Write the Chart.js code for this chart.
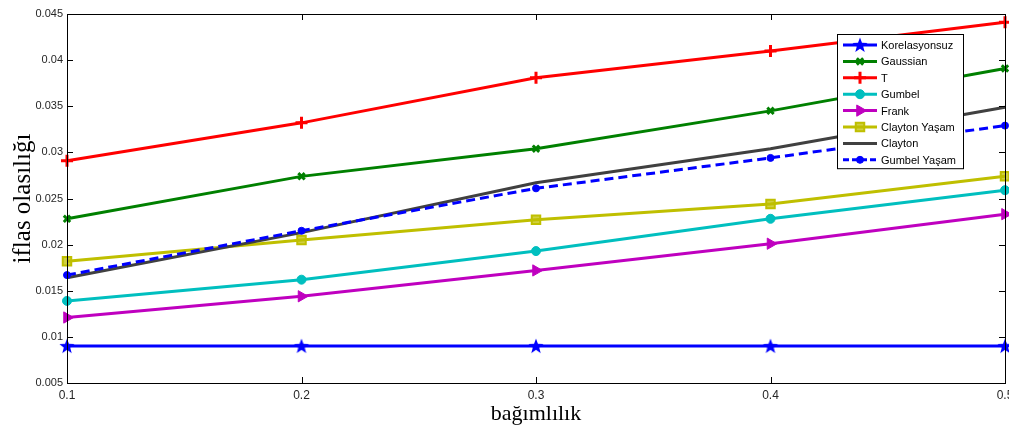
<!DOCTYPE html>
<html>
<head>
<meta charset="utf-8">
<script src="https://cdn.jsdelivr.net/npm/chart.js@4.4.1/dist/chart.umd.min.js"></script>
<style>
  html, body { margin: 0; padding: 0; background: #fff; }
  #wrap { width: 1009px; height: 427px; }
</style>
</head>
<body>
<div id="wrap"><canvas id="c" width="1009" height="427"></canvas></div>
<script>
// ---- data ----
const dependence = [0.1, 0.2, 0.3, 0.4, 0.5];
const korelasyonsuz = [0.0090, 0.0090, 0.0090, 0.0090, 0.0090];
const gaussian     = [0.0228, 0.0274, 0.0304, 0.0345, 0.0391];
const tCopula      = [0.0291, 0.0332, 0.0381, 0.0410, 0.0441];
const gumbel       = [0.0139, 0.0162, 0.0193, 0.0228, 0.0259];
const frank        = [0.0121, 0.0144, 0.0172, 0.0201, 0.0233];
const claytonYasam = [0.0182, 0.0205, 0.0227, 0.0244, 0.0274];
const clayton      = [0.0164, 0.0213, 0.0267, 0.0304, 0.0349];
const gumbelYasam  = [0.0167, 0.0215, 0.0261, 0.0294, 0.0329];
const yTicks = [0.005, 0.01, 0.015, 0.02, 0.025, 0.03, 0.035, 0.04, 0.045];

// filled five-pointed star marker
function starMarker(r, color) {
  const s = Math.ceil(r * 2 + 2);
  const cv = document.createElement('canvas');
  cv.width = s; cv.height = s;
  const g = cv.getContext('2d');
  g.translate(s / 2, s / 2 + 0.5);
  g.beginPath();
  for (let i = 0; i < 10; i++) {
    const rad = i % 2 === 0 ? r : r * 0.42;
    const a = -Math.PI / 2 + i * Math.PI / 5;
    g.lineTo(rad * Math.cos(a), rad * Math.sin(a));
  }
  g.closePath();
  g.fillStyle = color;
  g.fill();
  return cv;
}

const pts = vals => vals.map((v, i) => ({ x: dependence[i], y: v }));

const series = [
  { label: 'Korelasyonsuz', data: korelasyonsuz, color: '#0000ff', style: starMarker(8, '#0000ff'), radius: 8 },
  { label: 'Gaussian', data: gaussian, color: '#008000', style: 'crossRot', radius: 4.5, pbw: 3 },
  { label: 'T', data: tCopula, color: '#ff0000', style: 'cross', radius: 6, pbw: 3 },
  { label: 'Gumbel', data: gumbel, color: '#00bfbf', style: 'circle', radius: 4.5, pbw: 1, fill: '#00bfbf' },
  { label: 'Frank', data: frank, color: '#bf00bf', style: 'triangle', radius: 6.5, rot: 90, pbw: 1, fill: '#bf00bf' },
  { label: 'Clayton Yaşam', data: claytonYasam, color: '#bfbf00', style: 'rect', radius: 6, pbw: 2, fill: 'rgba(191,191,0,0.75)' },
  { label: 'Clayton', data: clayton, color: '#404040', style: false, radius: 0 },
  { label: 'Gumbel Yaşam', data: gumbelYasam, color: '#0000ff', style: 'circle', radius: 3.5, pbw: 1, fill: '#0000ff', dash: [9, 5] }
];

const datasets = series.map((s, i) => ({
  label: s.label,
  data: pts(s.data),
  borderColor: s.color,
  backgroundColor: s.fill || s.color,
  borderWidth: 3,
  borderDash: s.dash || [],
  pointStyle: s.style,
  pointRadius: s.radius,
  pointHoverRadius: s.radius,
  pointRotation: s.rot || 0,
  pointBorderWidth: s.pbw || 1,
  pointBorderColor: s.color,
  pointBackgroundColor: s.fill || s.color,
  tension: 0,
  clip: false,
  order: series.length - i
}));

// box around axes + inward ticks on all four sides
const boxTicks = {
  id: 'boxTicks',
  afterDraw(chart) {
    const { ctx, chartArea: a, scales } = chart;
    ctx.save();
    ctx.strokeStyle = '#000';
    ctx.lineWidth = 1;
    ctx.strokeRect(a.left + 0.5, a.top + 0.5, a.right - a.left, a.bottom - a.top);
    ctx.beginPath();
    dependence.forEach(v => {
      const x = Math.round(scales.x.getPixelForValue(v)) + 0.5;
      ctx.moveTo(x, a.bottom); ctx.lineTo(x, a.bottom - 6);
      ctx.moveTo(x, a.top); ctx.lineTo(x, a.top + 6);
    });
    yTicks.forEach(v => {
      const y = Math.round(scales.y.getPixelForValue(v)) + 0.5;
      ctx.moveTo(a.left, y); ctx.lineTo(a.left + 6, y);
      ctx.moveTo(a.right, y); ctx.lineTo(a.right - 6, y);
    });
    ctx.stroke();
    ctx.restore();
  }
};

// legend box inside the plot, top right
const boxLegend = {
  id: 'boxLegend',
  afterDraw(chart) {
    const { ctx } = chart;
    const x0 = 837, y0 = 34, w = 126, rowH = 16.4;
    const h = rowH * series.length + 3;
    ctx.save();
    ctx.fillStyle = '#fff';
    ctx.fillRect(x0, y0, w, h);
    ctx.strokeStyle = '#000';
    ctx.lineWidth = 1;
    ctx.strokeRect(x0 + 0.5, y0 + 0.5, w, h);
    ctx.font = '11px "Liberation Sans", Arial, sans-serif';
    ctx.textBaseline = 'middle';
    series.forEach((s, i) => {
      const y = y0 + 11 + i * rowH;
      ctx.strokeStyle = s.color;
      ctx.lineWidth = 3;
      ctx.setLineDash(s.dash ? [6, 3] : []);
      ctx.beginPath();
      ctx.moveTo(843, y); ctx.lineTo(877, y);
      ctx.stroke();
      ctx.setLineDash([]);
      if (s.style) {
        ctx.strokeStyle = s.color;
        ctx.fillStyle = s.fill || s.color;
        ctx.lineWidth = s.pbw || 1;
        Chart.helpers.drawPoint(ctx, {
          pointStyle: s.style, radius: s.radius, rotation: s.rot || 0, borderWidth: s.pbw || 1
        }, 860, y);
      }
      ctx.fillStyle = '#000';
      ctx.fillText(s.label, 881, y + 1);
    });
    ctx.restore();
  }
};

new Chart(document.getElementById('c'), {
  type: 'line',
  data: { datasets },
  options: {
    responsive: false,
    animation: false,
    events: [],
    layout: { autoPadding: false, padding: { top: 14, right: 4, left: 0, bottom: 0 } },
    plugins: { legend: { display: false }, tooltip: { enabled: false } },
    scales: {
      x: {
        type: 'linear',
        min: 0.1, max: 0.5,
        afterBuildTicks: s => { s.ticks = dependence.map(v => ({ value: v })); },
        afterFit: s => { s.height = 44; s.paddingLeft = 0; s.paddingRight = 0; },
        grid: { drawOnChartArea: false, drawTicks: false },
        border: { display: true, color: '#000', width: 1 },
        ticks: {
          padding: 5, maxRotation: 0, autoSkip: false,
          color: '#262626',
          font: { family: '"Liberation Sans Narrow", "Liberation Sans", Arial', size: 12 },
          callback: v => String(Number(v.toFixed(1)))
        },
        title: {
          display: true, text: 'bağımlılık', color: '#000', padding: { top: 0, bottom: 0 },
          font: { family: '"Liberation Serif", "Times New Roman", serif', size: 22 }
        }
      },
      y: {
        min: 0.005, max: 0.045,
        afterBuildTicks: s => { s.ticks = yTicks.map(v => ({ value: v })); },
        afterFit: s => { s.width = 67; s.paddingTop = 0; s.paddingBottom = 0; },
        grid: { drawOnChartArea: false, drawTicks: false },
        border: { display: true, color: '#000', width: 1 },
        ticks: {
          padding: 4, color: '#262626',
          font: { family: '"Liberation Sans", Arial', size: 11 },
          callback: v => String(Number(v.toFixed(3)))
        },
        title: {
          display: true, text: 'iflas olasılığı', color: '#000', padding: { top: 8, bottom: 0 },
          font: { family: '"Liberation Serif", "Times New Roman", serif', size: 25 }
        }
      }
    }
  },
  plugins: [boxTicks, boxLegend]
});
</script>
</body>
</html>
